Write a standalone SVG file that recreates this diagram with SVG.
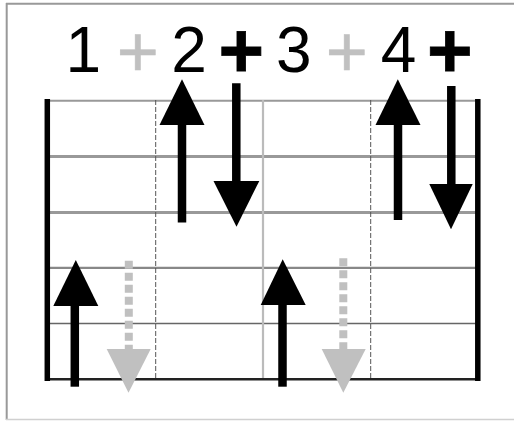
<svg xmlns="http://www.w3.org/2000/svg" width="514" height="421" viewBox="0 0 514 421">
<style>
.num{font-family:"Liberation Sans",Arial,sans-serif;font-size:64px;text-anchor:middle;fill:#000}
.pb{font-family:"Liberation Sans",Arial,sans-serif;font-size:78px;font-weight:bold;text-anchor:middle;fill:#000;stroke:#000;stroke-width:0.8}
.pg{font-family:"Liberation Sans",Arial,sans-serif;font-size:72px;text-anchor:middle;fill:#c0c0c0;stroke:#c0c0c0;stroke-width:0.6}
.dash{stroke:#555;stroke-width:1;stroke-dasharray:5 2;fill:none}
.shaft{stroke:#000;stroke-width:8.5;fill:none}
.gshaft{stroke:#c0c0c0;stroke-width:8;stroke-dasharray:8 4;fill:none}
</style>
<rect width="514" height="421" fill="#fff"/>
<g id="frame" fill="none">
<line x1="6.7" y1="3" x2="6.7" y2="420" stroke="#999" stroke-width="2"/>
<line x1="6" y1="3.7" x2="514" y2="3.7" stroke="#999" stroke-width="2"/>
<line x1="6" y1="419.5" x2="514" y2="419.5" stroke="#d0d0d0" stroke-width="1.5"/>
</g>
<g id="staff" fill="none">
<line x1="47" y1="100.7" x2="478" y2="100.7" stroke="#999" stroke-width="2"/>
<line x1="47" y1="156.5" x2="478" y2="156.5" stroke="#999" stroke-width="3"/>
<line x1="47" y1="212.5" x2="478" y2="212.5" stroke="#999" stroke-width="3"/>
<line x1="47" y1="267.8" x2="478" y2="267.8" stroke="#888" stroke-width="2.2"/>
<line x1="47" y1="323.5" x2="478" y2="323.5" stroke="#666" stroke-width="1.6"/>
<line x1="155.7" y1="100" x2="155.7" y2="379" class="dash"/>
<line x1="370.7" y1="100" x2="370.7" y2="379" class="dash"/>
<line x1="263" y1="100" x2="263" y2="379" stroke="#bbb" stroke-width="2.2"/>
<line x1="45" y1="379.3" x2="480" y2="379.3" stroke="#222" stroke-width="2.6"/>
<line x1="47.3" y1="99" x2="47.3" y2="381" stroke="#000" stroke-width="5.5"/>
<line x1="477.8" y1="99" x2="477.8" y2="381" stroke="#000" stroke-width="5.5"/>
</g>
<g id="labels">
<text class="num" x="83.4" y="72">1</text>
<text class="pg" x="137.7" y="75.5">+</text>
<text class="num" x="189" y="72">2</text>
<text class="pb" x="241.2" y="77">+</text>
<text class="num" x="293.8" y="72">3</text>
<text class="pg" x="346.7" y="75.5">+</text>
<text class="num" x="398.5" y="72">4</text>
<text class="pb" x="449.7" y="77">+</text>
</g>
<g id="connectors">
<g id="up-2">
<line class="shaft" x1="182" y1="222.5" x2="182" y2="122"/>
<polygon points="182,79.3 204.5,125 159.5,125" fill="#000"/>
</g>
<g id="down-2plus">
<line class="shaft" x1="236.3" y1="83.3" x2="236.3" y2="184"/>
<polygon points="236.5,226.7 213.5,181 259.3,181" fill="#000"/>
</g>
<g id="up-4">
<line class="shaft" x1="398" y1="220" x2="398" y2="122"/>
<polygon points="397.8,79.3 420.5,125 375.5,125" fill="#000"/>
</g>
<g id="down-4plus">
<line class="shaft" x1="451.3" y1="86" x2="451.3" y2="187"/>
<polygon points="451,229.3 429.3,184 472.7,184" fill="#000"/>
</g>
<g id="up-1">
<line class="shaft" x1="74.8" y1="386.7" x2="74.8" y2="303"/>
<polygon points="75.8,260 98.3,306 53.3,306" fill="#000"/>
</g>
<g id="down-1plus">
<line class="gshaft" x1="128.8" y1="260.7" x2="128.8" y2="350"/>
<polygon points="128.5,392.7 106.7,349 150.7,349" fill="#c0c0c0"/>
</g>
<g id="up-3">
<line class="shaft" x1="282.5" y1="386.7" x2="282.5" y2="302"/>
<polygon points="282.7,259.3 305.7,305 260.7,305" fill="#000"/>
</g>
<g id="down-3plus">
<line class="gshaft" x1="343.3" y1="258.3" x2="343.3" y2="350"/>
<polygon points="343.3,392.7 321.7,349 365.7,349" fill="#c0c0c0"/>
</g>
</g>
</svg>
